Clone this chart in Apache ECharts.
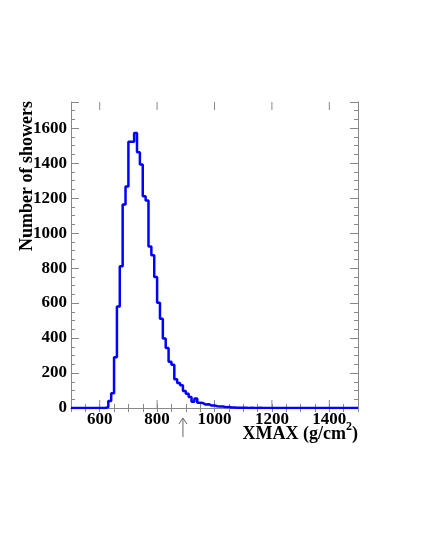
<!DOCTYPE html>
<html>
<head>
<meta charset="utf-8">
<script src="https://cdn.jsdelivr.net/npm/echarts@6/dist/echarts.min.js"></script>
<style>
  html, body { margin: 0; background: #fff; }
  #main { width: 421px; height: 545px; }
</style>
</head>
<body>
<div id="main"></div>
<script>
// histogram of XMAX, 10 g/cm2 bins from 500
const binStart = 500
const binWidth = 10
const counts = [
  0, 0, 0, 0, 0, 0, 0, 0, 0, 0,
  0, 0, 5, 40, 85, 290, 580, 811, 1164, 1267,
  1522, 1522, 1572, 1463, 1393, 1211, 1187, 924, 873, 749,
  602, 511, 397, 343, 265, 248, 165, 143, 130, 97,
  82, 63, 36, 55, 30, 28, 20, 22, 14, 15,
  10, 8, 9, 5, 6, 3, 3, 2, 1, 2,
  1, 0, 1, 0, 0, 1, 0, 0, 0, 0,
  0, 0, 0, 0, 0, 0, 0, 0, 0, 0,
  0, 0, 0, 0, 0, 0, 0, 0, 0, 0,
  0, 0, 0, 0, 0, 0, 0, 0, 0, 0
]
const xMajorTicks = [600, 800, 1000, 1200, 1400]
const yTickLabels = [0, 200, 400, 600, 800, 1000, 1200, 1400, 1600]
const arrowX = 890

const font = 'Liberation Serif'
const frameColor = '#888'

// step points: each bin starts at its left edge
const steps = counts.map((c, i) => [binStart + i * binWidth, c])
steps.push([binStart + counts.length * binWidth, counts[counts.length - 1]])

const chart = echarts.init(document.getElementById('main'))

const tickAxis = {
  axisLine: { show: true, lineStyle: { color: frameColor, width: 1 } },
  splitLine: { show: false },
  minorSplitLine: { show: false }
}

chart.setOption({
  animation: false,
  grid: { left: 71, right: 63, top: 102, bottom: 137 },
  xAxis: [
    {
      ...tickAxis,
      type: 'value', min: 500, max: 1500, interval: 50,
      axisTick: { inside: true, length: 4, lineStyle: { color: frameColor } },
      axisLabel: {
        margin: 3,
        color: '#000',
        fontFamily: font, fontWeight: 'bold', fontSize: 17,
        formatter: v => xMajorTicks.includes(v) ? String(v) : ''
      }
    },
    {
      ...tickAxis,
      type: 'value', position: 'top', min: 500, max: 1500, interval: 50,
      axisTick: { inside: true, length: 4, lineStyle: { color: frameColor } },
      axisLabel: { show: false }
    }
  ],
  yAxis: [
    {
      ...tickAxis,
      type: 'value', min: 0, max: 1750, interval: 200,
      axisTick: { inside: true, length: 8, lineStyle: { color: frameColor } },
      minorTick: { show: true, splitNumber: 4, length: 4, lineStyle: { color: frameColor } },
      axisLabel: {
        margin: 4,
        color: '#000',
        fontFamily: font, fontWeight: 'bold', fontSize: 17,
        formatter: v => yTickLabels.includes(v) ? String(v) : ''
      }
    },
    {
      ...tickAxis,
      type: 'value', position: 'right', min: 0, max: 1750, interval: 200,
      axisTick: { inside: true, length: 8, lineStyle: { color: frameColor } },
      minorTick: { show: true, splitNumber: 4, length: 4, lineStyle: { color: frameColor } },
      axisLabel: { show: false }
    }
  ],
  series: [
    {
      // longer ticks at the labelled x values, bottom and top
      type: 'custom',
      xAxisIndex: 0,
      yAxisIndex: 0,
      silent: true,
      data: xMajorTicks.map(v => [v, 0]),
      renderItem: (params, api) => {
        const b = api.coord([api.value(0), 0])
        const t = api.coord([api.value(0), 1750])
        const st = { stroke: frameColor, lineWidth: 1 }
        return {
          type: 'group',
          children: [
            { type: 'line', shape: { x1: b[0], y1: b[1], x2: b[0], y2: b[1] - 8 }, style: st },
            { type: 'line', shape: { x1: t[0], y1: t[1], x2: t[0], y2: t[1] + 8 }, style: st }
          ]
        }
      }
    },
    {
      type: 'line',
      xAxisIndex: 0,
      yAxisIndex: 0,
      step: 'end',
      showSymbol: false,
      symbol: 'none',
      data: steps,
      lineStyle: { color: '#0000ff', width: 2.5 },
      z: 5
    }
  ]
})

// arrow under the x axis, titles
const ax = chart.convertToPixel({ xAxisIndex: 0 }, arrowX)
const arrowStyle = { stroke: '#666', lineWidth: 1, fill: null }
chart.setOption({
  graphic: [
    { type: 'line', shape: { x1: ax, y1: 418, x2: ax, y2: 437 }, style: arrowStyle },
    { type: 'polyline', shape: { points: [[ax - 4, 424], [ax, 418], [ax + 4, 424]] }, style: arrowStyle },
    {
      type: 'text',
      x: 358, y: 443,
      style: {
        text: '{a|XMAX (g/cm}{s|2}{a|)}',
        align: 'right', verticalAlign: 'bottom',
        textAlign: 'right', textVerticalAlign: 'bottom',
        rich: {
          a: { fontFamily: font, fontWeight: 'bold', fontSize: 18, fill: '#000', lineHeight: 22, verticalAlign: 'bottom' },
          s: { fontFamily: font, fontWeight: 'bold', fontSize: 12, fill: '#000', lineHeight: 22, verticalAlign: 'top' }
        }
      }
    },
    {
      type: 'text',
      x: 27, y: 101,
      rotation: Math.PI / 2,
      style: {
        text: 'Number of showers',
        font: 'bold 18px "Liberation Serif"',
        fill: '#000',
        align: 'right', verticalAlign: 'middle',
        textAlign: 'right', textVerticalAlign: 'middle'
      }
    }
  ]
})
</script>
</body>
</html>
